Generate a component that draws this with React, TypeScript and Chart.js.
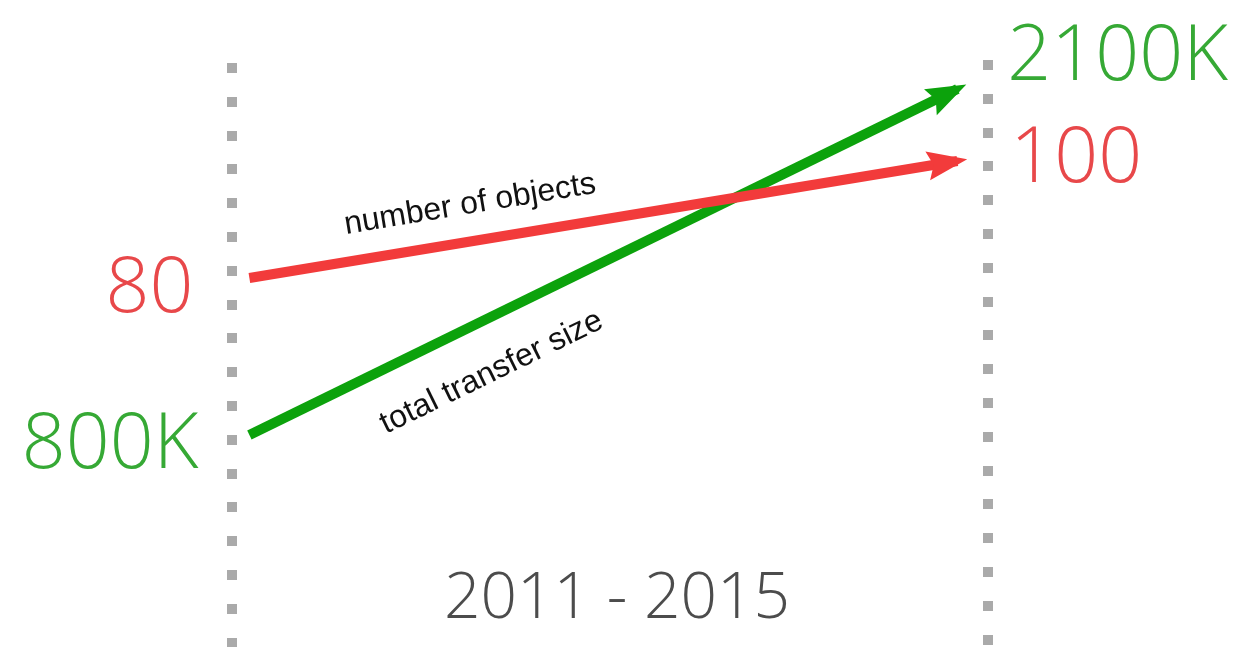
import React, { useEffect, useRef } from "react";
import { Chart, registerables } from "chart.js";

Chart.register(...registerables);

const years = [2011, 2015];
const objectCounts = [80, 100];
const transferSizeK = [800, 2100];
const objectLabels = ["80", "100"];
const sizeLabels = ["800K", "2100K"];
const seriesNames = ["number of objects", "total transfer size"];
const periodLabel = "2011 - 2015";

const RED_LINE = "#f23b3b";
const GREEN_LINE = "#0ca20c";
const RED_TEXT = "#e8484a";
const GREEN_TEXT = "#36a935";
const FONT = '"Open Sans", "Noto Sans", sans-serif';

function drawArrowHead(ctx: CanvasRenderingContext2D, x0: number, y0: number, x1: number, y1: number, color: string) {
  const ang = Math.atan2(y1 - y0, x1 - x0);
  const len = 40;
  const half = 14.5;
  const ext = 10;
  const tx = x1 + Math.cos(ang) * ext;
  const ty = y1 + Math.sin(ang) * ext;
  const bx = tx - Math.cos(ang) * len;
  const by = ty - Math.sin(ang) * len;
  const px = -Math.sin(ang);
  const py = Math.cos(ang);
  ctx.save();
  ctx.fillStyle = color;
  ctx.beginPath();
  ctx.moveTo(tx, ty);
  ctx.lineTo(bx + px * half, by + py * half);
  ctx.lineTo(bx + Math.cos(ang) * 6, by + Math.sin(ang) * 6);
  ctx.lineTo(bx - px * half, by - py * half);
  ctx.closePath();
  ctx.fill();
  ctx.restore();
}

const decorPlugin = {
  id: "decor",
  beforeDatasetsDraw(chart: any) {
    const ctx: CanvasRenderingContext2D = chart.ctx;
    const xs = chart.scales.x;
    const h = chart.height;
    const guides = [
      { x: xs.getPixelForValue(years[0]) - 17, start: 63 },
      { x: xs.getPixelForValue(years[1]) + 31, start: 60 },
    ];
    ctx.save();
    ctx.fillStyle = "#aaaaaa";
    for (const g of guides) {
      for (let y = g.start; y < h; y += 33.8) {
        ctx.fillRect(Math.round(g.x - 5), Math.round(y), 10, 10);
      }
    }
    ctx.restore();
  },
  afterDatasetsDraw(chart: any) {
    const ctx: CanvasRenderingContext2D = chart.ctx;
    const xs = chart.scales.x;
    const yr = chart.scales.yRed;
    const yg = chart.scales.yGreen;
    const rx0 = xs.getPixelForValue(years[0]);
    const rx1 = xs.getPixelForValue(years[1]);
    const ry0 = yr.getPixelForValue(objectCounts[0]);
    const ry1 = yr.getPixelForValue(objectCounts[1]);
    const gy0 = yg.getPixelForValue(transferSizeK[0]);
    const gy1 = yg.getPixelForValue(transferSizeK[1]);

    drawArrowHead(ctx, rx0, ry0, rx1, ry1, RED_LINE);
    drawArrowHead(ctx, rx0, gy0, rx1, gy1, GREEN_LINE);

    ctx.save();
    ctx.textBaseline = "alphabetic";
    ctx.font = `300 77px ${FONT}`;
    ctx.textAlign = "right";
    ctx.fillStyle = RED_TEXT;
    ctx.fillText(objectLabels[0], rx0 - 56, ry0 + 34);
    ctx.fillStyle = GREEN_TEXT;
    ctx.fillText(sizeLabels[0], rx0 - 51, gy0 + 33);
    ctx.textAlign = "left";
    ctx.fillStyle = GREEN_TEXT;
    ctx.fillText(sizeLabels[1], rx1 + 50, gy1 - 9);
    ctx.fillStyle = RED_TEXT;
    ctx.fillText(objectLabels[1], rx1 + 53, ry1 + 21);

    ctx.textAlign = "center";
    ctx.fillStyle = "#4c4c4c";
    ctx.font = `300 64px ${FONT}`;
    ctx.fillText(periodLabel, 617, 618);

    ctx.font = `32px "Liberation Sans", Arial, sans-serif`;
    ctx.fillStyle = "#111111";
    const redAng = Math.atan2(ry1 - ry0, rx1 - rx0);
    ctx.save();
    ctx.translate(346, 234);
    ctx.rotate(redAng);
    ctx.textAlign = "left";
    ctx.fillText(seriesNames[0], 0, 0);
    ctx.restore();
    const greenAng = Math.atan2(gy1 - gy0, rx1 - rx0);
    ctx.save();
    ctx.translate(386, 434);
    ctx.rotate(greenAng);
    ctx.textAlign = "left";
    ctx.fillText(seriesNames[1], 0, 0);
    ctx.restore();
    ctx.restore();
  },
};

export default function App() {
  const ref = useRef<HTMLCanvasElement | null>(null);
  useEffect(() => {
    if (!ref.current) return;
    const chart = new Chart(ref.current, {
      type: "line",
      data: {
        datasets: [
          {
            label: seriesNames[0],
            data: years.map((x, i) => ({ x, y: objectCounts[i] })),
            borderColor: RED_LINE,
            borderWidth: 10,
            borderCapStyle: "butt",
            pointRadius: 0,
            yAxisID: "yRed",
          },
          {
            label: seriesNames[1],
            data: years.map((x, i) => ({ x, y: transferSizeK[i] })),
            borderColor: GREEN_LINE,
            borderWidth: 10,
            borderCapStyle: "butt",
            pointRadius: 0,
            yAxisID: "yGreen",
          },
        ],
      },
      options: {
        animation: false,
        responsive: false,
        maintainAspectRatio: false,
        layout: { padding: 0 },
        plugins: { legend: { display: false }, tooltip: { enabled: false } },
        scales: {
          x: { type: "linear", display: false, min: 2009.591, max: 2016.563 },
          yRed: { type: "linear", display: false, min: 16.92, max: 127.52 },
          yGreen: { type: "linear", display: false, min: 3.5, max: 2434.4 },
        },
      } as any,
      plugins: [decorPlugin],
    });
    return () => chart.destroy();
  }, []);
  return (
    <div style={{ position: "fixed", left: 0, top: 0, width: 1234, height: 647, background: "#fff" }}>
      <canvas ref={ref} width={1234} height={647} style={{ width: 1234, height: 647, display: "block" }} />
    </div>
  );
}
